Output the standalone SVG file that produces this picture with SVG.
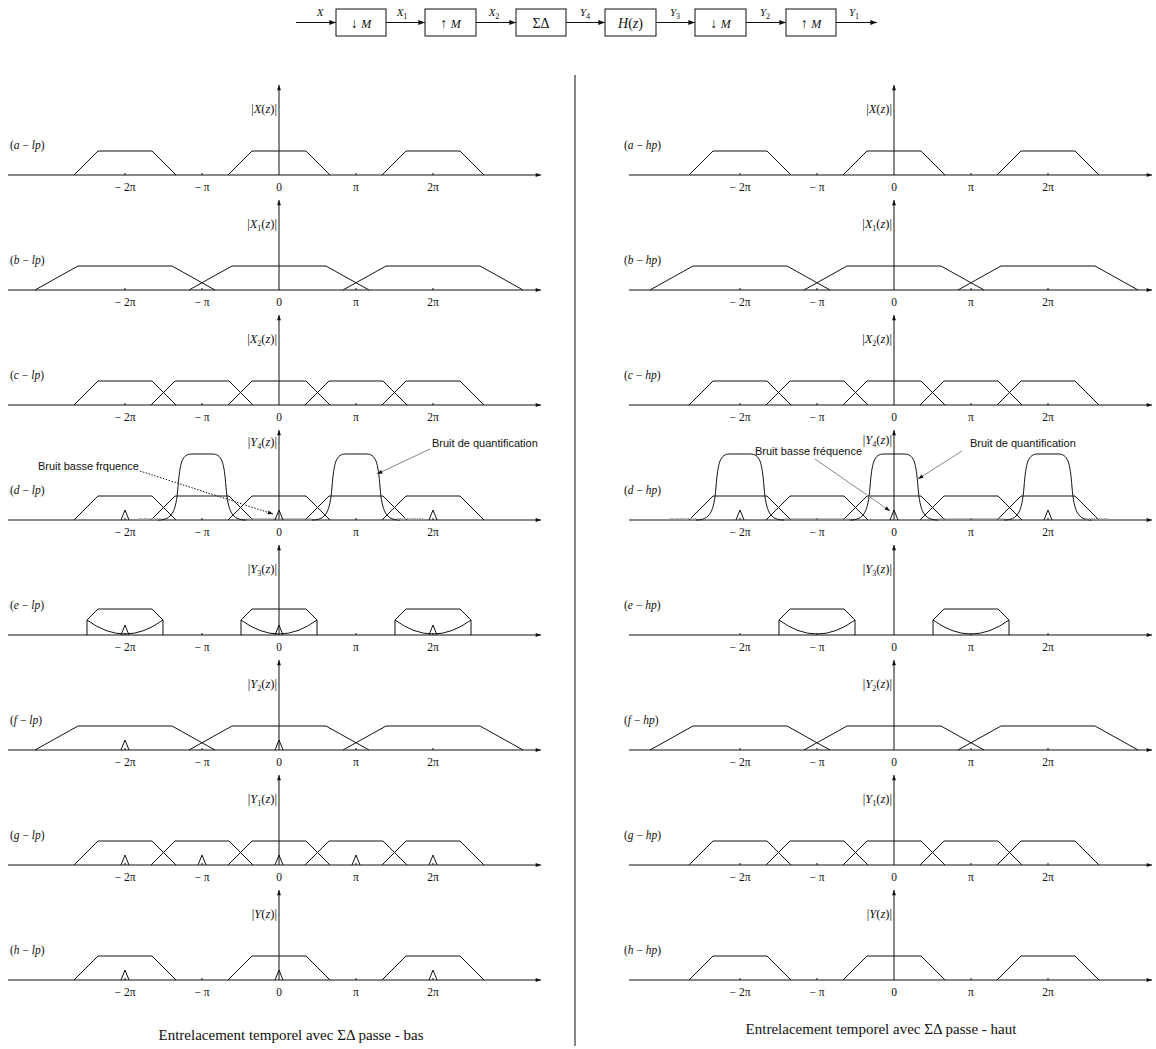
<svg xmlns="http://www.w3.org/2000/svg" xmlns:xlink="http://www.w3.org/1999/xlink" width="1156" height="1049" viewBox="0 0 1156 1049">
<style>
.ln{stroke:#111;stroke-width:1;fill:none}
.gr{stroke:#888;stroke-width:1;fill:none}
.dot{stroke:#999;stroke-width:2;stroke-dasharray:1.5 1;fill:none}
.m{font-family:"Liberation Serif","Times New Roman",serif;fill:#111}
.tk{font-size:11.5px;text-anchor:middle}
.pl{font-size:11.5px}
.al{font-size:12.5px;text-anchor:end}
.i{font-style:italic}
.sb{font-size:8px}
.an{font-family:"Liberation Sans",Arial,sans-serif;font-size:11px;fill:#111}
.cap{font-family:"Liberation Serif","Times New Roman",serif;font-size:15px;text-anchor:middle;fill:#111}
.bx{fill:#fff;stroke:#111;stroke-width:1}
.bt{font-family:"Liberation Serif","Times New Roman",serif;font-size:14px;text-anchor:middle;fill:#111}
.bl{font-family:"Liberation Serif","Times New Roman",serif;font-size:11px;text-anchor:middle;fill:#111;font-style:italic}
</style>
<defs>
<marker id="ah" viewBox="0 0 8 6" refX="8" refY="3" markerWidth="7" markerHeight="5" markerUnits="userSpaceOnUse" orient="auto"><path d="M0,0 L8,3 L0,6 z" fill="#111"/></marker>
<marker id="ahs" viewBox="0 0 8 6" refX="8" refY="3" markerWidth="6" markerHeight="4" markerUnits="userSpaceOnUse" orient="auto"><path d="M0,0 L8,3 L0,6 z" fill="#111"/></marker>
<polyline id="tA" class="ln" points="-51,0 -27,-24 27,-24 51,0"/>
<polyline id="tB" class="ln" points="-90,0 -47,-24 47,-24 90,0"/>
<polyline id="tri" class="ln" points="-4,0 0,-10 4,0"/>
<path id="bump" class="ln" d="M-44,0 C-30,0 -26,-8 -24,-33 C-22,-58 -20,-66 -10,-66 L10,-66 C20,-66 22,-58 24,-33 C26,-8 30,0 44,0"/>
<path id="eS" class="ln" d="M-38,0 V-15 L-27,-26 H27 L38,-15 V0 M-38,-15 Q0,13 38,-15"/>
<path id="tks" class="ln" d="M-154,-2V0M-77,-2V0M77,-2V0M154,-2V0"/>
<g id="tl" class="m tk"><text x="-154" y="16">− 2π</text><text x="-77" y="16">− π</text><text x="0" y="16">0</text><text x="77" y="16">π</text><text x="154" y="16">2π</text></g>
<g id="axL"><line class="ln" x1="-271" y1="0" x2="262" y2="0" marker-end="url(#ahs)"/><line class="ln" x1="0" y1="0" x2="0" y2="-90" marker-end="url(#ahs)"/><use href="#tks"/><use href="#tl"/></g>
<g id="axR"><line class="ln" x1="-265" y1="0" x2="258" y2="0" marker-end="url(#ahs)"/><line class="ln" x1="0" y1="0" x2="0" y2="-90" marker-end="url(#ahs)"/><use href="#tks"/><use href="#tl"/></g>
<g id="sA"><use href="#tA" x="-154"/><use href="#tA" x="0"/><use href="#tA" x="154"/></g>
<g id="sB"><use href="#tB" x="-154"/><use href="#tB" x="0"/><use href="#tB" x="154"/></g>
<g id="sC"><use href="#tA" x="-154"/><use href="#tA" x="-77"/><use href="#tA" x="0"/><use href="#tA" x="77"/><use href="#tA" x="154"/></g>
</defs>
<rect width="1156" height="1049" fill="#fff"/>

<!-- block diagram -->
<g id="connectors">
<line class="ln" x1="296" y1="22.5" x2="336" y2="22.5" marker-end="url(#ah)"/>
<line class="ln" x1="386" y1="22.5" x2="425" y2="22.5" marker-end="url(#ah)"/>
<line class="ln" x1="476" y1="22.5" x2="516" y2="22.5" marker-end="url(#ah)"/>
<line class="ln" x1="566" y1="22.5" x2="605" y2="22.5" marker-end="url(#ah)"/>
<line class="ln" x1="656" y1="22.5" x2="695" y2="22.5" marker-end="url(#ah)"/>
<line class="ln" x1="746" y1="22.5" x2="786" y2="22.5" marker-end="url(#ah)"/>
<line class="ln" x1="836" y1="22.5" x2="877" y2="22.5" marker-end="url(#ah)"/>
<text class="bl" x="320" y="16">X</text>
<text class="bl" x="402" y="16">X<tspan class="sb" dy="3" font-style="normal">1</tspan></text>
<text class="bl" x="494" y="16">X<tspan class="sb" dy="3" font-style="normal">2</tspan></text>
<text class="bl" x="585" y="16">Y<tspan class="sb" dy="3" font-style="normal">4</tspan></text>
<text class="bl" x="675" y="16">Y<tspan class="sb" dy="3" font-style="normal">3</tspan></text>
<text class="bl" x="765" y="16">Y<tspan class="sb" dy="3" font-style="normal">2</tspan></text>
<text class="bl" x="854" y="16">Y<tspan class="sb" dy="3" font-style="normal">1</tspan></text>
</g>
<g id="b-down1"><rect class="bx" x="336" y="9" width="50" height="27"/><text class="bt" x="361" y="27.5">↓ <tspan class="i" font-size="12">M</tspan></text></g>
<g id="b-up1"><rect class="bx" x="425" y="9" width="51" height="27"/><text class="bt" x="450.5" y="27.5">↑ <tspan class="i" font-size="12">M</tspan></text></g>
<g id="b-sd"><rect class="bx" x="516" y="9" width="50" height="27"/><text class="bt" x="541" y="27.5">ΣΔ</text></g>
<g id="b-h"><rect class="bx" x="605" y="9" width="51" height="27"/><text class="bt" x="630.5" y="27.5"><tspan class="i">H</tspan>(<tspan class="i">z</tspan>)</text></g>
<g id="b-down2"><rect class="bx" x="695" y="9" width="51" height="27"/><text class="bt" x="720.5" y="27.5">↓ <tspan class="i" font-size="12">M</tspan></text></g>
<g id="b-up2"><rect class="bx" x="786" y="9" width="50" height="27"/><text class="bt" x="811" y="27.5">↑ <tspan class="i" font-size="12">M</tspan></text></g>

<line id="separator" class="ln" x1="575" y1="75" x2="575" y2="1046"/>

<!-- LEFT (lp) -->
<g id="a-lp" transform="translate(279,175)">
<use href="#axL"/><use href="#sA"/>
<text class="m pl" x="-269" y="-26">(<tspan class="i">a</tspan> − <tspan class="i">lp</tspan>)</text>
<text class="m al" x="-2" y="-62">|<tspan class="i">X</tspan>(<tspan class="i">z</tspan>)|</text>
</g>
<g id="b-lp" transform="translate(279,290)">
<use href="#axL"/><use href="#sB"/>
<text class="m pl" x="-269" y="-26">(<tspan class="i">b</tspan> − <tspan class="i">lp</tspan>)</text>
<text class="m al" x="-2" y="-62">|<tspan class="i">X</tspan><tspan class="sb" dy="3">1</tspan><tspan dy="-3">(</tspan><tspan class="i">z</tspan>)|</text>
</g>
<g id="c-lp" transform="translate(279,405)">
<use href="#axL"/><use href="#sC"/>
<text class="m pl" x="-269" y="-26">(<tspan class="i">c</tspan> − <tspan class="i">lp</tspan>)</text>
<text class="m al" x="-2" y="-62">|<tspan class="i">X</tspan><tspan class="sb" dy="3">2</tspan><tspan dy="-3">(</tspan><tspan class="i">z</tspan>)|</text>
</g>
<g id="d-lp" transform="translate(279,520)">
<use href="#axL"/><use href="#sC"/>
<use href="#bump" x="-77"/><use href="#bump" x="77"/>
<line class="gr" x1="-33" y1="-1" x2="33" y2="-1"/>
<line class="dot" x1="-140" y1="-1" x2="-118" y2="-1"/>
<line class="dot" x1="118" y1="-1" x2="144" y2="-1"/>
<use href="#tri" x="-154"/><use href="#tri" x="0"/><use href="#tri" x="154"/>
<text class="m pl" x="-269" y="-26">(<tspan class="i">d</tspan> − <tspan class="i">lp</tspan>)</text>
<text class="m al" x="-2" y="-74">|<tspan class="i">Y</tspan><tspan class="sb" dy="3">4</tspan><tspan dy="-3">(</tspan><tspan class="i">z</tspan>)|</text>
<text class="an" x="-241" y="-50">Bruit basse frquence</text>
<line class="ln" x1="-139" y1="-49" x2="-6" y2="-6" stroke-dasharray="1.5 1.5" marker-end="url(#ahs)"/>
<text class="an" x="153" y="-73">Bruit de quantification</text>
<line class="gr" x1="151" y1="-71" x2="98" y2="-46" marker-end="url(#ahs)"/>
</g>
<g id="e-lp" transform="translate(279,635)">
<use href="#axL"/>
<use href="#eS" x="-154"/><use href="#eS" x="0"/><use href="#eS" x="154"/>
<use href="#tri" x="-154"/><use href="#tri" x="0"/><use href="#tri" x="154"/>
<text class="m pl" x="-269" y="-26">(<tspan class="i">e</tspan> − <tspan class="i">lp</tspan>)</text>
<text class="m al" x="-2" y="-62">|<tspan class="i">Y</tspan><tspan class="sb" dy="3">3</tspan><tspan dy="-3">(</tspan><tspan class="i">z</tspan>)|</text>
</g>
<g id="f-lp" transform="translate(279,750)">
<use href="#axL"/><use href="#sB"/>
<use href="#tri" x="-154"/><use href="#tri" x="0"/>
<text class="m pl" x="-269" y="-26">(<tspan class="i">f</tspan> − <tspan class="i">lp</tspan>)</text>
<text class="m al" x="-2" y="-62">|<tspan class="i">Y</tspan><tspan class="sb" dy="3">2</tspan><tspan dy="-3">(</tspan><tspan class="i">z</tspan>)|</text>
</g>
<g id="g-lp" transform="translate(279,865)">
<use href="#axL"/><use href="#sC"/>
<use href="#tri" x="-154"/><use href="#tri" x="-77"/><use href="#tri" x="0"/><use href="#tri" x="77"/><use href="#tri" x="154"/>
<text class="m pl" x="-269" y="-26">(<tspan class="i">g</tspan> − <tspan class="i">lp</tspan>)</text>
<text class="m al" x="-2" y="-62">|<tspan class="i">Y</tspan><tspan class="sb" dy="3">1</tspan><tspan dy="-3">(</tspan><tspan class="i">z</tspan>)|</text>
</g>
<g id="h-lp" transform="translate(279,980)">
<use href="#axL"/><use href="#sA"/>
<use href="#tri" x="-154"/><use href="#tri" x="0"/><use href="#tri" x="154"/>
<text class="m pl" x="-269" y="-26">(<tspan class="i">h</tspan> − <tspan class="i">lp</tspan>)</text>
<text class="m al" x="-2" y="-62">|<tspan class="i">Y</tspan>(<tspan class="i">z</tspan>)|</text>
</g>

<!-- RIGHT (hp) -->
<g id="a-hp" transform="translate(894,175)">
<use href="#axR"/><use href="#sA"/>
<text class="m pl" x="-270" y="-26">(<tspan class="i">a</tspan> − <tspan class="i">hp</tspan>)</text>
<text class="m al" x="-2" y="-62">|<tspan class="i">X</tspan>(<tspan class="i">z</tspan>)|</text>
</g>
<g id="b-hp" transform="translate(894,290)">
<use href="#axR"/><use href="#sB"/>
<text class="m pl" x="-270" y="-26">(<tspan class="i">b</tspan> − <tspan class="i">hp</tspan>)</text>
<text class="m al" x="-2" y="-62">|<tspan class="i">X</tspan><tspan class="sb" dy="3">1</tspan><tspan dy="-3">(</tspan><tspan class="i">z</tspan>)|</text>
</g>
<g id="c-hp" transform="translate(894,405)">
<use href="#axR"/><use href="#sC"/>
<text class="m pl" x="-270" y="-26">(<tspan class="i">c</tspan> − <tspan class="i">hp</tspan>)</text>
<text class="m al" x="-2" y="-62">|<tspan class="i">X</tspan><tspan class="sb" dy="3">2</tspan><tspan dy="-3">(</tspan><tspan class="i">z</tspan>)|</text>
</g>
<g id="d-hp" transform="translate(894,520)">
<use href="#axR"/><use href="#sC"/>
<use href="#bump" x="-154"/><use href="#bump" x="0"/><use href="#bump" x="154"/>
<line class="gr" x1="-110" y1="-1" x2="-44" y2="-1"/>
<line class="gr" x1="44" y1="-1" x2="110" y2="-1"/>
<line class="dot" x1="-224" y1="-1" x2="-198" y2="-1"/>
<line class="dot" x1="192" y1="-1" x2="214" y2="-1"/>
<use href="#tri" x="-154"/><use href="#tri" x="0"/><use href="#tri" x="154"/>
<text class="m pl" x="-270" y="-26">(<tspan class="i">d</tspan> − <tspan class="i">hp</tspan>)</text>
<text class="m al" x="-2" y="-76">|<tspan class="i">Y</tspan><tspan class="sb" dy="3">4</tspan><tspan dy="-3">(</tspan><tspan class="i">z</tspan>)|</text>
<text class="an" x="-139" y="-65" font-size="10.5">Bruit basse fréquence</text>
<line class="gr" x1="-79" y1="-61" x2="-4" y2="-9" marker-end="url(#ahs)"/>
<text class="an" x="76" y="-73">Bruit de quantification</text>
<line class="gr" x1="68" y1="-69" x2="24" y2="-41" marker-end="url(#ahs)"/>
</g>
<g id="e-hp" transform="translate(894,635)">
<use href="#axR"/>
<use href="#eS" x="-77"/><use href="#eS" x="77"/>
<text class="m pl" x="-270" y="-26">(<tspan class="i">e</tspan> − <tspan class="i">hp</tspan>)</text>
<text class="m al" x="-2" y="-62">|<tspan class="i">Y</tspan><tspan class="sb" dy="3">3</tspan><tspan dy="-3">(</tspan><tspan class="i">z</tspan>)|</text>
</g>
<g id="f-hp" transform="translate(894,750)">
<use href="#axR"/><use href="#sB"/>
<text class="m pl" x="-270" y="-26">(<tspan class="i">f</tspan> − <tspan class="i">hp</tspan>)</text>
<text class="m al" x="-2" y="-62">|<tspan class="i">Y</tspan><tspan class="sb" dy="3">2</tspan><tspan dy="-3">(</tspan><tspan class="i">z</tspan>)|</text>
</g>
<g id="g-hp" transform="translate(894,865)">
<use href="#axR"/><use href="#sC"/>
<text class="m pl" x="-270" y="-26">(<tspan class="i">g</tspan> − <tspan class="i">hp</tspan>)</text>
<text class="m al" x="-2" y="-62">|<tspan class="i">Y</tspan><tspan class="sb" dy="3">1</tspan><tspan dy="-3">(</tspan><tspan class="i">z</tspan>)|</text>
</g>
<g id="h-hp" transform="translate(894,980)">
<use href="#axR"/><use href="#sA"/>
<text class="m pl" x="-270" y="-26">(<tspan class="i">h</tspan> − <tspan class="i">hp</tspan>)</text>
<text class="m al" x="-2" y="-62">|<tspan class="i">Y</tspan>(<tspan class="i">z</tspan>)|</text>
</g>

<text class="cap" x="291" y="1040">Entrelacement temporel avec ΣΔ passe - bas</text>
<text class="cap" x="881" y="1034">Entrelacement temporel avec ΣΔ passe - haut</text>
</svg>
